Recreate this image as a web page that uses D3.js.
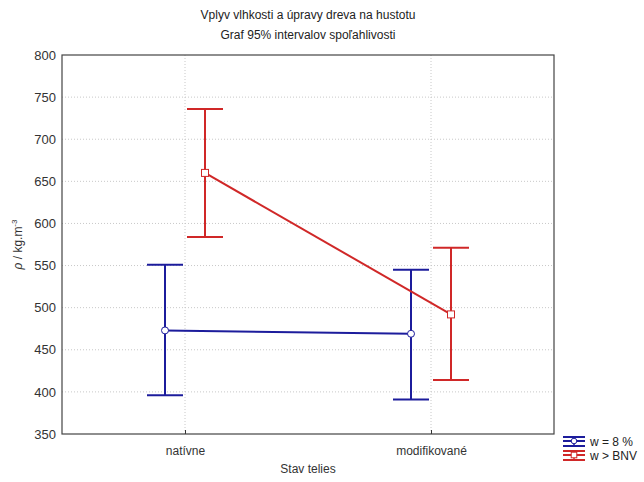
<!DOCTYPE html>
<html>
<head>
<meta charset="utf-8">
<script src="https://cdn.jsdelivr.net/npm/d3@7"></script>
<style>
  body { margin: 0; background: #fff; }
  svg { font-family: "Liberation Sans", Arial, sans-serif; }
</style>
</head>
<body>
<div id="chart"></div>
<script>
const categories = ["natívne", "modifikované"];
const seriesNames = ["w = 8 %", "w > BNV"];
const seriesColors = ["#1c1c9c", "#d02828"];
const meanLow = [473, 469];
const lowerLow = [396, 391];
const upperLow = [551, 545];
const meanHigh = [660, 492];
const lowerHigh = [584, 414];
const upperHigh = [736, 571];
const yTicks = [350, 400, 450, 500, 550, 600, 650, 700, 750, 800];

const series = [
  { name: seriesNames[0], color: seriesColors[0], mean: meanLow, lo: lowerLow, hi: upperLow, shape: "circle", offset: -20 },
  { name: seriesNames[1], color: seriesColors[1], mean: meanHigh, lo: lowerHigh, hi: upperHigh, shape: "square", offset: 20 }
];

const width = 644, height = 482;
const margin = { top: 55, right: 90, bottom: 48, left: 62 };
const innerW = width - margin.left - margin.right;
const innerH = height - margin.top - margin.bottom;

const svg = d3.select("#chart").append("svg")
  .attr("width", width)
  .attr("height", height);

const g = svg.append("g")
  .attr("transform", "translate(" + margin.left + "," + margin.top + ")");

const x = d3.scalePoint().domain(categories).range([0, innerW]).padding(0.5);
const y = d3.scaleLinear().domain([350, 800]).range([innerH, 0]);

// grid
g.append("g").selectAll("line.hg")
  .data(yTicks.slice(1, -1))
  .enter().append("line")
  .attr("x1", 0).attr("x2", innerW)
  .attr("y1", d => y(d)).attr("y2", d => y(d))
  .attr("stroke", "#c8c8c8")
  .attr("stroke-dasharray", "1,2");

g.append("g").selectAll("line.vg")
  .data(categories)
  .enter().append("line")
  .attr("x1", d => x(d)).attr("x2", d => x(d))
  .attr("y1", 0).attr("y2", innerH)
  .attr("stroke", "#c8c8c8")
  .attr("stroke-dasharray", "1,2");

// axes
const yAxis = g.append("g")
  .call(d3.axisLeft(y).tickValues(yTicks).tickSize(0).tickPadding(6));
yAxis.select(".domain").remove();
yAxis.selectAll("text").attr("font-size", 13).attr("fill", "#333");

const xAxis = g.append("g")
  .attr("transform", "translate(0," + innerH + ")")
  .call(d3.axisBottom(x).tickSize(-4).tickPadding(12));
xAxis.select(".domain").remove();
xAxis.selectAll("line").attr("stroke", "#333");
xAxis.selectAll("text").attr("font-size", 12).attr("fill", "#333");

// frame
g.append("rect")
  .attr("width", innerW).attr("height", innerH)
  .attr("fill", "none")
  .attr("stroke", "#444")
  .attr("stroke-width", 1.2);

// series
const capW = 18;
series.forEach(s => {
  const sg = g.append("g");
  const px = (d, i) => x(categories[i]) + s.offset;

  sg.append("path")
    .datum(s.mean)
    .attr("d", d3.line().x((d, i) => px(d, i)).y(d => y(d)))
    .attr("fill", "none")
    .attr("stroke", s.color)
    .attr("stroke-width", 2);

  categories.forEach((c, i) => {
    const cx = x(c) + s.offset;
    sg.append("line")
      .attr("x1", cx).attr("x2", cx)
      .attr("y1", y(s.lo[i])).attr("y2", y(s.hi[i]))
      .attr("stroke", s.color).attr("stroke-width", 2);
    [s.lo[i], s.hi[i]].forEach(v => {
      sg.append("line")
        .attr("x1", cx - capW).attr("x2", cx + capW)
        .attr("y1", y(v)).attr("y2", y(v))
        .attr("stroke", s.color).attr("stroke-width", 2);
    });
    if (s.shape === "circle") {
      sg.append("circle")
        .attr("cx", cx).attr("cy", y(s.mean[i])).attr("r", 3.5)
        .attr("fill", "#fff").attr("stroke", s.color).attr("stroke-width", 1);
    } else {
      sg.append("rect")
        .attr("x", cx - 3.5).attr("y", y(s.mean[i]) - 3.5)
        .attr("width", 7).attr("height", 7)
        .attr("fill", "#fff").attr("stroke", s.color).attr("stroke-width", 1);
    }
  });
});

// titles
svg.append("text")
  .attr("x", margin.left + innerW / 2).attr("y", 19)
  .attr("text-anchor", "middle").attr("font-size", 12).attr("fill", "#222")
  .text("Vplyv vlhkosti a úpravy dreva na hustotu");
svg.append("text")
  .attr("x", margin.left + innerW / 2).attr("y", 39)
  .attr("text-anchor", "middle").attr("font-size", 12).attr("fill", "#222")
  .text("Graf 95% intervalov spoľahlivosti");

svg.append("text")
  .attr("x", margin.left + innerW / 2).attr("y", 473)
  .attr("text-anchor", "middle").attr("font-size", 12).attr("fill", "#333")
  .text("Stav telies");

const yl = svg.append("text")
  .attr("transform", "translate(22," + (margin.top + innerH / 2) + ") rotate(-90)")
  .attr("text-anchor", "middle").attr("font-size", 12).attr("fill", "#333");
yl.append("tspan").attr("font-style", "italic").text("ρ");
yl.append("tspan").text(" / kg.m");
yl.append("tspan").attr("dy", -5).attr("font-size", 8).text("-3");

// legend
const lg = svg.append("g").attr("transform", "translate(563,437)");
series.forEach((s, i) => {
  const row = lg.append("g").attr("transform", "translate(0," + (i * 14) + ")");
  [0, 4, 9].forEach(dy => {
    row.append("line")
      .attr("x1", 0).attr("x2", 22).attr("y1", dy).attr("y2", dy)
      .attr("stroke", s.color).attr("stroke-width", 2);
  });
  row.append("line")
    .attr("x1", 11).attr("x2", 11).attr("y1", 0).attr("y2", 9)
    .attr("stroke", s.color).attr("stroke-width", 1.5);
  if (s.shape === "circle") {
    row.append("circle").attr("cx", 11).attr("cy", 4).attr("r", 2.8)
      .attr("fill", "#fff").attr("stroke", s.color);
  } else {
    row.append("rect").attr("x", 8.2).attr("y", 1.2).attr("width", 5.6).attr("height", 5.6)
      .attr("fill", "#fff").attr("stroke", s.color);
  }
  row.append("text")
    .attr("x", 27).attr("y", 8.5)
    .attr("font-size", 12).attr("fill", "#222")
    .text(s.name);
});
</script>
</body>
</html>
